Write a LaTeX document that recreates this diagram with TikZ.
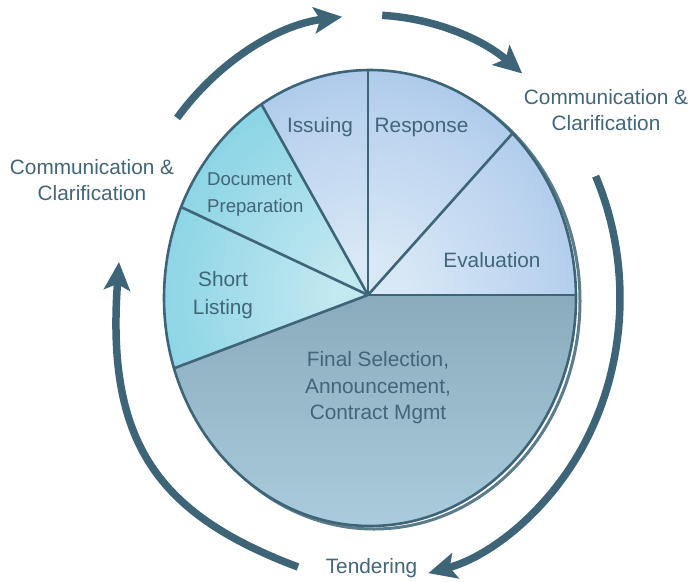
\documentclass[tikz,border=0pt]{standalone}
\usepackage{fontspec}
\setmainfont{Liberation Sans}
\usetikzlibrary{arrows.meta,calc}
\definecolor{edgec}{HTML}{3E6577}
\definecolor{txtc}{HTML}{426577}
\definecolor{blueIn}{HTML}{D8E8F6}
\definecolor{blueMid}{HTML}{BCD4EF}
\definecolor{blueMid2}{HTML}{A2BFE7}
\definecolor{blueOut}{HTML}{94B5E4}
\definecolor{cyanIn}{HTML}{C2E8F0}
\definecolor{cyanMid}{HTML}{98D9E8}
\definecolor{cyanMid2}{HTML}{77CEE3}
\definecolor{cyanOut}{HTML}{63C8DF}
\definecolor{finTop}{HTML}{88A9B9}
\definecolor{finBot}{HTML}{ABCCDC}
\pgfdeclareradialshading{blueRad}{\pgfpoint{0bp}{0bp}}{color(0bp)=(blueIn); color(4bp)=(blueIn); color(19bp)=(blueMid); color(31bp)=(blueMid2); color(48bp)=(blueOut); color(50bp)=(blueOut)}
\pgfdeclareradialshading{cyanRad}{\pgfpoint{0bp}{0bp}}{color(0bp)=(cyanIn); color(4bp)=(cyanIn); color(19bp)=(cyanMid); color(31bp)=(cyanMid2); color(48bp)=(cyanOut); color(50bp)=(cyanOut)}
\tikzset{
  lbl/.style={text=txtc, inner sep=0pt, font=\fontsize{20.8}{26}\selectfont, align=center},
  arr/.style={draw=edgec, line width=7.5pt, -{Stealth[length=28pt,width=26pt,inset=6pt]}},
  divider/.style={draw=edgec, line width=2.6pt},
}
\newcommand{\pieclip}{\clip (C) ellipse [x radius=206, y radius=228];}
\begin{document}
\begin{tikzpicture}[x=1pt,y=-1pt]
\useasboundingbox (0,0) rectangle (692,581);
\coordinate (C) at (370,298);
\coordinate (V) at (368,295);
\coordinate (O) at (370,298);
% shadow
\draw[edgec!85, line width=3pt] ($(C)+(4,3)$) ellipse [x radius=206, y radius=228];
% blue sectors
\begin{scope}
  \pieclip
  \clip (V) -- ($(V)+(-119.2:600)$) -- ($(V)+(-60:600)$) -- ($(V)+(0:600)$) -- cycle;
  \shade[shading=blueRad] (V) circle (225);
\end{scope}
% cyan sectors
\begin{scope}
  \pieclip
  \clip (V) -- ($(V)+(-200.7:600)$) -- ($(V)+(-160:600)$) -- ($(V)+(-119.2:600)$) -- cycle;
  \shade[shading=cyanRad] (V) circle (225);
\end{scope}
% final sector
\begin{scope}
  \pieclip
  \clip (V) -- ($(V)+(0:600)$) -- ($(V)+(80:600)$) -- ($(V)+(159.3:600)$) -- cycle;
  \shade[top color=finTop, bottom color=finBot] (150,280) rectangle (590,530);
\end{scope}
% dividers
\begin{scope}
  \pieclip
  \foreach \a in {0,-48.2,-90,-119.2,-154.8,159.3}
    \draw[divider] (V) -- ($(V)+(\a:600)$);
\end{scope}
\draw[edgec, line width=2.6pt] (C) ellipse [x radius=206, y radius=228];
% labels in pie
\node[lbl, anchor=base] (issuing) at (320,132) {Issuing};
\node[lbl, anchor=base] (response) at (421.5,132) {Response};
\node[lbl, anchor=base] (evaluation) at (492,267) {Evaluation};
\node[lbl, anchor=west, align=left, font=\fontsize{18.6}{27}\selectfont] (docprep) at (207,194.7) {Document\\Preparation};
\node[lbl, font=\fontsize{20.8}{28}\selectfont] (short) at (223,295.6) {Short\\Listing};
\node[lbl, font=\fontsize{20.8}{26.5}\selectfont] (final) at (378,388) {Final Selection,\\Announcement,\\Contract Mgmt};
% outer labels
\node[lbl] (ccright) at (606,110.5) {Communication \&\\Clarification};
\node[lbl] (ccleft) at (92,180.5) {Communication \&\\Clarification};
\node[lbl, anchor=base] (tendering) at (371.5,573) {Tendering};
% arrows
\draw[arr] ($(O)+(219.5:250 and 283)$) arc [start angle=219.5, end angle=263.6, x radius=250, y radius=283];
\draw[arr] ($(O)+(272.8:250 and 283)$) arc [start angle=272.8, end angle=307.5, x radius=250, y radius=283];
\draw[arr] ($(O)+(-25.5:250 and 283)$) arc [start angle=-25.5, end angle=76.5, x radius=250, y radius=283];
\coordinate (ltail) at (298,567);
\coordinate (ltip) at (119,262);
\draw[arr] (ltail) .. controls (157,514) and (106,442) .. (ltip);
\end{tikzpicture}
\end{document}
